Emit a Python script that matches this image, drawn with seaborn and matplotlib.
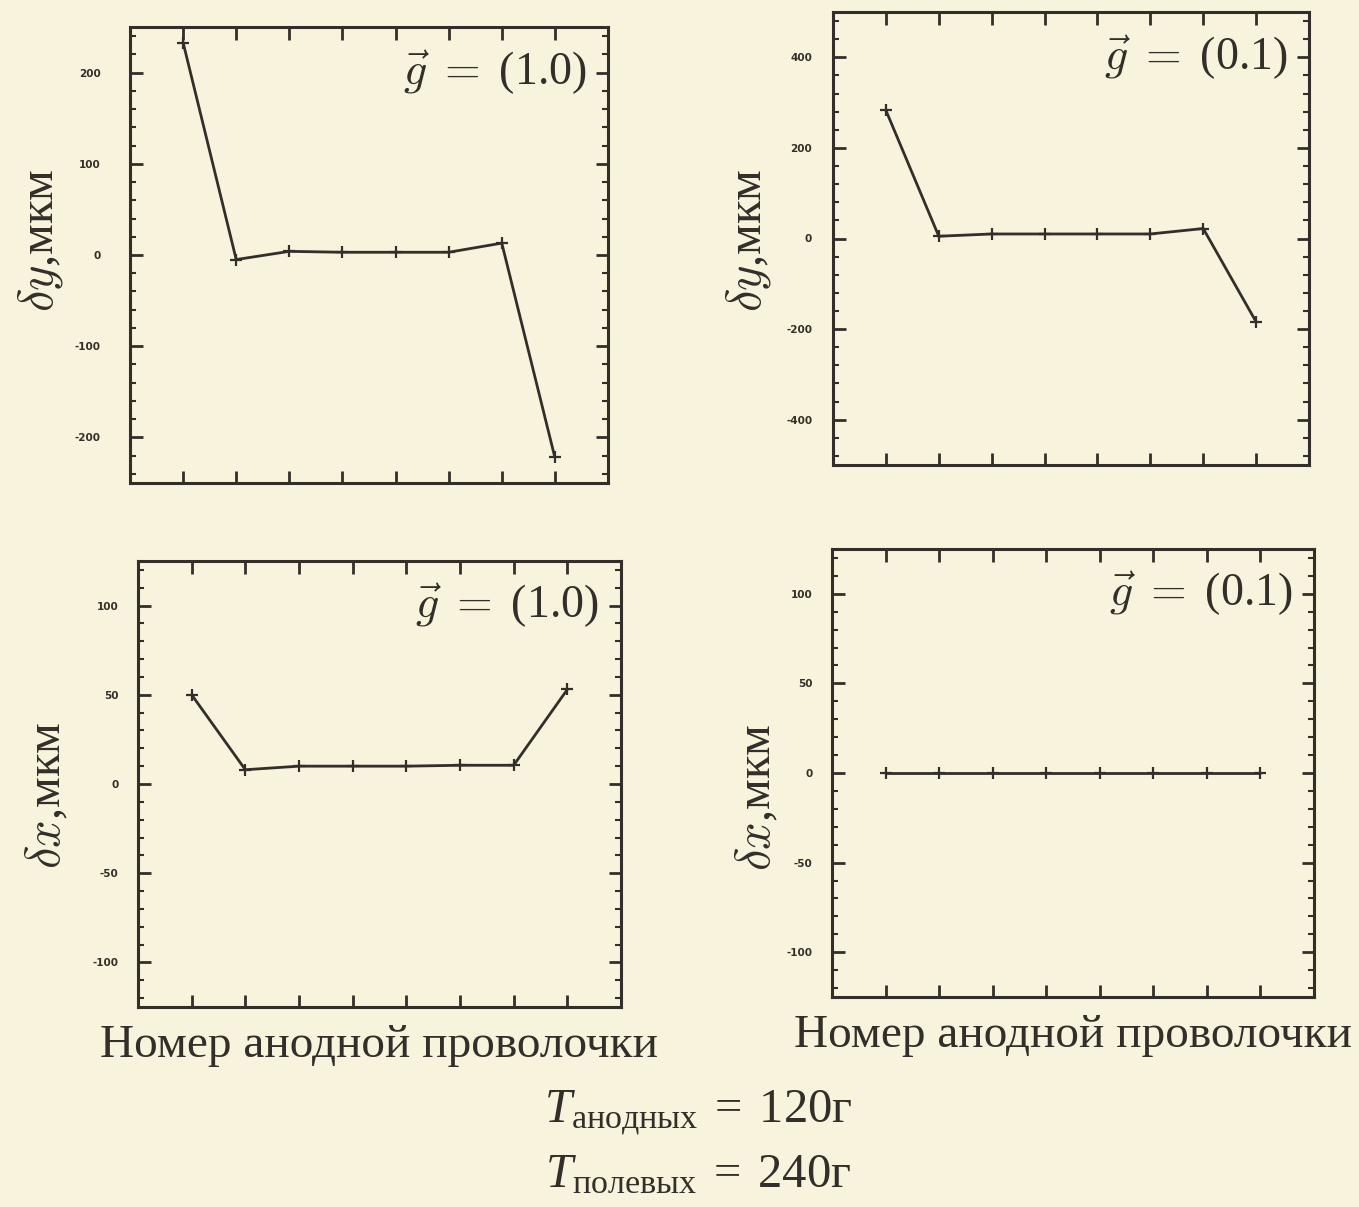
import numpy as np
import pandas as pd
import seaborn as sns
import matplotlib.pyplot as plt
from matplotlib.ticker import MultipleLocator

# Data (wire number vs displacement, um)
wires = [1, 2, 3, 4, 5, 6, 7, 8]
dy_g10 = [233, -5, 4, 3, 3, 3, 13, -222]
dy_g01 = [283, 5, 10, 10, 10, 10, 22, -184]
dx_g10 = [50, 8, 10, 10, 10, 10.5, 10.5, 53]
dx_g01 = [0, 0, 0, 0, 0, 0, 0, 0]

g_labels = ['(1.0)', '(0.1)', '(1.0)', '(0.1)']
y_names = [r'$\delta y$,мкм', r'$\delta y$,мкм', r'$\delta x$,мкм', r'$\delta x$,мкм']
x_name = 'Номер анодной проволочки'
tension_lines = [r'$T_{\mathrm{анодных}}\;=\;120\mathrm{г}$',
                 r'$T_{\mathrm{полевых}}\;=\;240\mathrm{г}$']

paper = '#f8f3dc'
ink = '#332e29'

sns.set_style('ticks')
plt.rcParams['font.family'] = ['Liberation Serif', 'DejaVu Serif']
plt.rcParams['axes.unicode_minus'] = False
plt.rcParams['mathtext.fontset'] = 'custom'
plt.rcParams['mathtext.rm'] = 'Liberation Serif'
plt.rcParams['mathtext.it'] = 'Liberation Serif:italic'

W, H = 1359, 1207
fig = plt.figure(figsize=(W / 100, H / 100), dpi=100, facecolor=paper)


def px_box(l, t, r, b):
    return [l / W, 1 - b / H, (r - l) / W, (b - t) / H]


# layout per panel: box in pixels, y range, major/minor step, tick label pad, ylabel centre
panels = [
    dict(y=dy_g10, box=(130, 27, 608, 483), lim=250, major=100, minor=20, pad=21, lx=40, ly=240),
    dict(y=dy_g01, box=(833, 12, 1309, 465), lim=500, major=200, minor=40, pad=15, lx=748, ly=240),
    dict(y=dx_g10, box=(138, 561, 621, 1007), lim=125, major=50, minor=10, pad=14, lx=47, ly=795),
    dict(y=dx_g01, box=(832, 549, 1314, 997), lim=125, major=50, minor=10, pad=14, lx=757, ly=797),
]

for i, p in enumerate(panels):
    ax = fig.add_axes(px_box(*p['box']))
    ax.set_facecolor(paper)
    df = pd.DataFrame({'wire': wires, 'value': p['y']})
    sns.lineplot(data=df, x='wire', y='value', ax=ax, color=ink, linewidth=2.0,
                 marker='+', markersize=8, markeredgewidth=1.6, markeredgecolor=ink)
    ax.set_xlim(0, 9)
    ax.set_ylim(-p['lim'], p['lim'])
    ax.set_xticks(wires)
    ax.set_xticklabels([])
    ax.yaxis.set_major_locator(MultipleLocator(p['major']))
    ax.yaxis.set_minor_locator(MultipleLocator(p['minor']))
    ax.tick_params(which='both', direction='in', top=True, right=True, color=ink)
    ax.tick_params(which='major', length=9, width=2)
    ax.tick_params(which='minor', length=4, width=1.5)
    ax.tick_params(axis='y', which='major', pad=p['pad'], labelsize=7.5, labelcolor=ink)
    for lab in ax.get_yticklabels():
        lab.set_fontfamily('DejaVu Sans')
        lab.set_fontweight('heavy')
    for s in ax.spines.values():
        s.set_linewidth(2.2)
        s.set_color(ink)
    ax.set_xlabel('')
    ax.set_ylabel('')
    ax.text(0.955, 0.9, r'$\vec{g}\;=\;$' + g_labels[i], transform=ax.transAxes,
            ha='right', va='center', fontsize=33, color=ink, math_fontfamily='cm')
    fig.text(p['lx'] / W, 1 - p['ly'] / H, y_names[i], rotation=90, ha='center', va='center',
             fontsize=35, color=ink, math_fontfamily='cm')
    if i >= 2:
        ax.set_xlabel(x_name, fontsize=34, color=ink, labelpad=9)

fig.text(698 / W, 1 - 1113 / H, tension_lines[0], ha='center', va='center', fontsize=35, color=ink)
fig.text(698 / W, 1 - 1175 / H, tension_lines[1], ha='center', va='center', fontsize=35, color=ink)

fig.savefig('out.png', dpi=100, facecolor=paper)
